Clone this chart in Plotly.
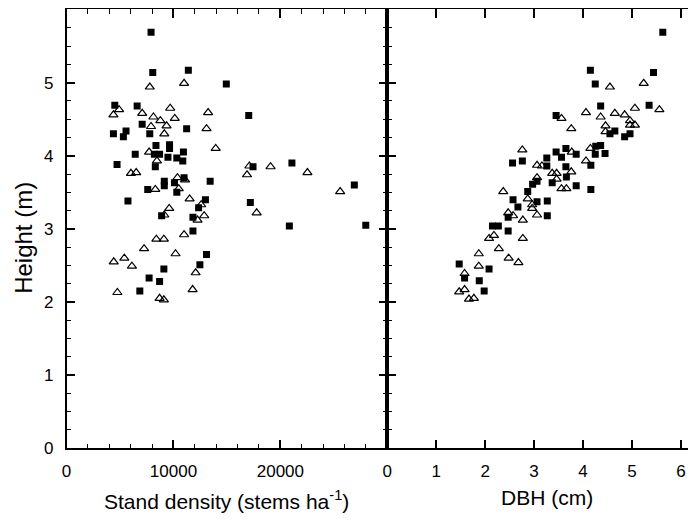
import plotly.graph_objects as go

# ---- Left panel: height vs stand density ----
dens_sq = [7900, 8060, 11390, 14940, 4510, 6600, 17040, 7070, 4380, 5560, 5310, 7780, 11230,
           8360, 9630, 9630, 10930, 6420, 8210, 8700, 9480, 10310, 10870, 4720, 8300, 17440,
           21080, 10990, 9140, 9140, 10090, 13430, 7590, 10310, 26920, 5740, 12990, 17190,
           12350, 8890, 11820, 20840, 27990, 11820, 13090, 12470, 9100, 7720, 8700, 6850]
h_dens_sq = [5.69, 5.14, 5.17, 4.98, 4.69, 4.68, 4.55, 4.43, 4.30, 4.34, 4.26, 4.30, 4.37,
             4.14, 4.15, 4.10, 4.05, 4.02, 4.02, 4.02, 3.98, 3.97, 3.93, 3.88, 3.85, 3.85,
             3.90, 3.70, 3.65, 3.59, 3.63, 3.65, 3.54, 3.50, 3.60, 3.38, 3.40, 3.36,
             3.29, 3.18, 3.16, 3.04, 3.05, 2.97, 2.65, 2.51, 2.45, 2.33, 2.28, 2.15]

dens_tri = [7780, 10990, 4910, 4380, 7070, 9690, 13240, 8120, 8770, 10120, 7900, 9350, 13090,
            9140, 13950, 7720, 8450, 17100, 19080, 6020, 6510, 16880, 22530, 10370, 11080,
            8300, 10490, 25590, 11510, 12590, 9600, 9140, 12250, 12870, 17780, 10990, 8400,
            9100, 7250, 10190, 4410, 5400, 6110, 12070, 4750, 11790, 8700, 9100]
h_dens_tri = [4.94, 4.99, 4.63, 4.56, 4.58, 4.65, 4.59, 4.53, 4.48, 4.51, 4.40, 4.41, 4.37,
              4.30, 4.10, 4.05, 3.93, 3.86, 3.85, 3.76, 3.77, 3.74, 3.77, 3.70, 3.67,
              3.54, 3.55, 3.51, 3.41, 3.33, 3.28, 3.19, 3.12, 3.18, 3.22, 2.92, 2.86,
              2.86, 2.73, 2.66, 2.55, 2.60, 2.49, 2.40, 2.13, 2.17, 2.05, 2.03]

# ---- Right panel: height vs DBH ----
dbh_sq = [5.63, 4.15, 5.44, 4.25, 5.35, 4.36, 3.45, 4.65, 4.55, 4.96, 4.85, 4.36, 4.26, 3.65,
          3.45, 3.86, 4.25, 4.45, 3.56, 3.26, 2.76, 2.56, 4.16, 3.26, 3.65, 3.06, 3.37, 3.66,
          2.97, 3.86, 4.16, 2.87, 2.57, 3.06, 3.27, 2.67, 2.47, 3.27, 2.15, 2.27, 2.47,
          1.47, 2.08, 1.58, 1.88, 1.98]
h_dbh_sq = [5.69, 5.17, 5.14, 4.98, 4.69, 4.68, 4.55, 4.34, 4.30, 4.30, 4.26, 4.14, 4.13, 4.10,
            4.05, 4.02, 4.02, 4.03, 3.98, 3.97, 3.93, 3.90, 3.87, 3.86, 3.85, 3.65, 3.63, 3.71,
            3.61, 3.59, 3.54, 3.51, 3.40, 3.37, 3.38, 3.30, 3.16, 3.18, 3.04, 3.04, 2.97,
            2.52, 2.45, 2.33, 2.29, 2.15]

dbh_tri = [5.24, 4.55, 5.06, 5.56, 4.06, 4.65, 4.85, 4.36, 3.56, 4.96, 4.46, 4.96, 5.06, 4.46,
           3.76, 2.76, 3.77, 4.15, 4.06, 3.06, 3.16, 3.37, 3.46, 3.76, 3.06, 3.46, 3.56, 3.66,
           2.37, 2.87, 2.96, 2.96, 2.47, 2.57, 3.06, 2.77, 2.18, 2.08, 2.77, 2.28, 1.87,
           2.48, 2.68, 1.87, 1.58, 1.47, 1.58, 1.67, 1.77]
h_dbh_tri = [4.99, 4.94, 4.65, 4.63, 4.59, 4.58, 4.56, 4.53, 4.51, 4.48, 4.41, 4.42, 4.42, 4.33,
             4.37, 4.08, 4.05, 4.10, 3.93, 3.87, 3.86, 3.76, 3.76, 3.78, 3.70, 3.68, 3.55, 3.55,
             3.51, 3.41, 3.33, 3.28, 3.22, 3.18, 3.19, 3.12, 2.91, 2.87, 2.87, 2.73, 2.66,
             2.60, 2.54, 2.49, 2.39, 2.14, 2.17, 2.04, 2.05]

height_ticks = [0, 1, 2, 3, 4, 5]
height_labels = ["0", "1", "2", "3", "4", "5"]
dens_ticks = [0, 10000, 20000]
dens_labels = ["0", "10000", "20000"]
dbh_ticks = [0, 1, 2, 3, 4, 5, 6]
dbh_labels = ["0", "1", "2", "3", "4", "5", "6"]

# minor tick positions (axis decoration, not data)
height_minor = [i * 0.25 for i in range(25)]
dens_minor = [i * 2000 for i in range(16)]

FONT = "Liberation Sans, Arial, sans-serif"
sq_marker = dict(symbol="square", size=7, color="black", line=dict(width=0))
tri_marker = dict(symbol="triangle-up-open", size=8, color="black", line=dict(width=1.2, color="black"))

fig = go.Figure()
fig.add_trace(go.Scatter(x=dens_sq, y=h_dens_sq, mode="markers", marker=sq_marker, xaxis="x", yaxis="y"))
fig.add_trace(go.Scatter(x=dens_tri, y=h_dens_tri, mode="markers", marker=tri_marker, xaxis="x", yaxis="y"))
fig.add_trace(go.Scatter(x=dbh_sq, y=h_dbh_sq, mode="markers", marker=sq_marker, xaxis="x2", yaxis="y2"))
fig.add_trace(go.Scatter(x=dbh_tri, y=h_dbh_tri, mode="markers", marker=tri_marker, xaxis="x2", yaxis="y2"))

# the page body keeps an 8px margin; size the figure so the page fits the window exactly
W, H = 688, 508
xl, xm, xr = 54 / W, 377 / W, 1.0
yb, yt = (H - 449) / H, 0.999

common = dict(showgrid=False, zeroline=False, showline=True, linecolor="black", linewidth=1.5,
              ticks="inside", ticklen=9, tickwidth=1.5, tickcolor="black",
              tickfont=dict(family=FONT, size=17, color="black"))
minor_style = dict(ticks="inside", ticklen=5, tickwidth=1.2, tickcolor="black")

fig.update_layout(
    width=W, height=H,
    margin=dict(l=0, r=0, t=0, b=0),
    paper_bgcolor="white", plot_bgcolor="white",
    showlegend=False,
    font=dict(family=FONT, color="black"),
    xaxis=dict(domain=[xl, xm], range=[0, 30000], anchor="y",
               tickmode="array", tickvals=dens_ticks, ticktext=dens_labels, mirror="ticks",
               minor=dict(tickmode="array", tickvals=dens_minor, **minor_style),
               ticklabelstandoff=7, **common),
    yaxis=dict(domain=[yb, yt], range=[0, 6], anchor="x",
               tickmode="array", tickvals=height_ticks, ticktext=height_labels, mirror="ticks",
               minor=dict(tickmode="array", tickvals=height_minor, **minor_style),
               ticklabelstandoff=8, **common),
    xaxis2=dict(domain=[xm, xr], range=[0, (W - 377) / 49.3], anchor="y2",
                tickmode="array", tickvals=dbh_ticks, ticktext=dbh_labels, mirror="ticks",
                ticklabelstandoff=7, **common),
    yaxis2=dict(domain=[yb, yt], range=[0, 6], anchor="x2",
                tickmode="array", tickvals=height_ticks, showticklabels=False, mirror=False,
                minor=dict(tickmode="array", tickvals=height_minor, **minor_style),
                **common),
    annotations=[
        dict(text="Stand density (stems ha<sup>-1</sup>)", xref="paper", yref="paper",
             x=(xl + xm) / 2, y=(H - 502) / H, xanchor="center", yanchor="middle",
             showarrow=False, font=dict(family=FONT, size=21, color="black")),
        dict(text="DBH (cm)", xref="paper", yref="paper",
             x=538 / W, y=(H - 499) / H, xanchor="center", yanchor="middle",
             showarrow=False, font=dict(family=FONT, size=21, color="black")),
        dict(text="Height (m)", xref="paper", yref="paper", textangle=-90,
             x=11 / W, y=(H - 234) / H, xanchor="center", yanchor="middle",
             showarrow=False, font=dict(family=FONT, size=24, color="black")),
    ],
)

fig.write_html("out.html")
